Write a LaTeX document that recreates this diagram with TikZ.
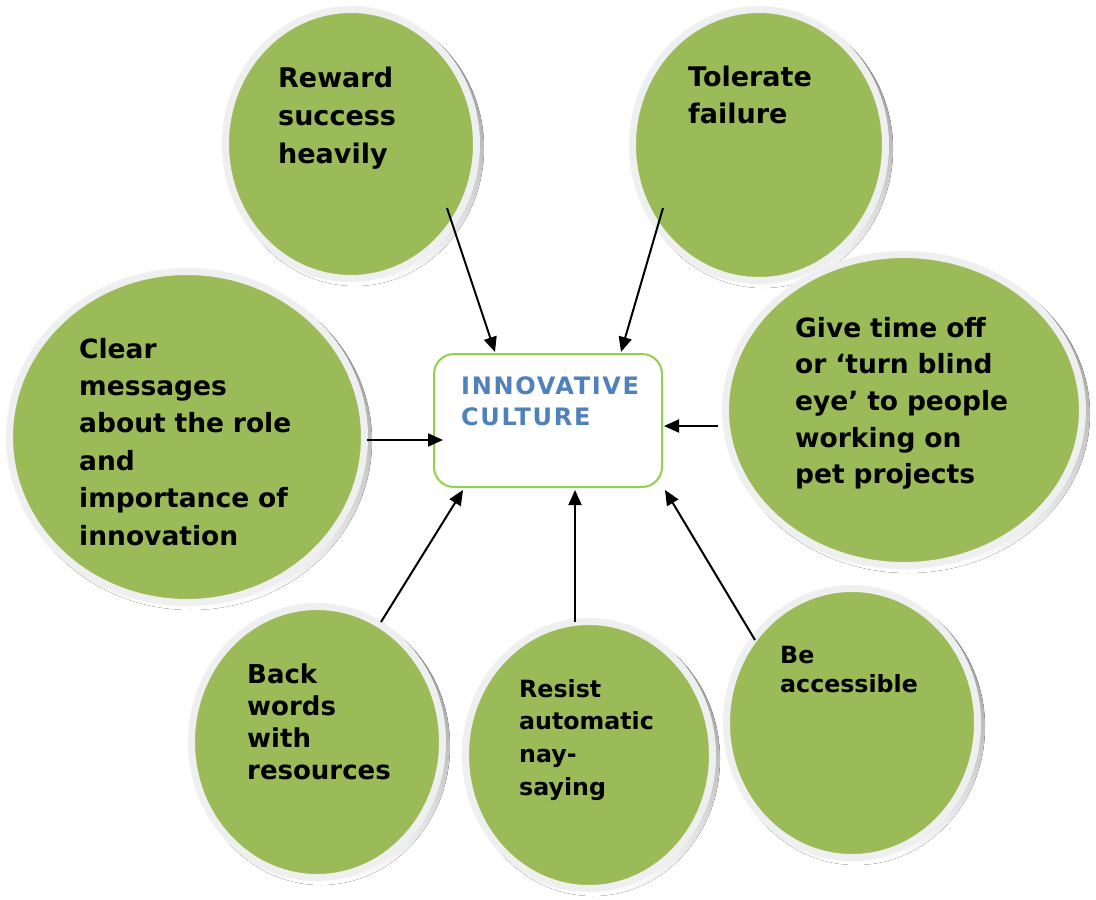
\documentclass[tikz,border=0pt]{standalone}
\usepackage{fontspec}
\setmainfont{DejaVu Sans}
\usetikzlibrary{shapes.geometric,arrows.meta}
\definecolor{leaf}{HTML}{9BBB59}
\definecolor{rim}{HTML}{EFEFEF}
\definecolor{shade}{HTML}{A3AB8D}
\definecolor{boxline}{HTML}{92D050}
\definecolor{titleblue}{HTML}{4F81BD}
\newcommand\mybubble[5]{%
  \fill[shade] (#2+4,#3+4) ellipse [x radius=#4pt, y radius=#5pt];
  \node[bubble, minimum width={2*#4pt-7pt}, minimum height={2*#5pt-7pt}] (#1) at (#2,#3) {};
}
\begin{document}
\begin{tikzpicture}[x=1pt,y=-1pt,
  bubble/.style={ellipse, fill=leaf, draw=rim, line width=7pt, inner sep=0pt},
  label/.style={anchor=base west, inner sep=0pt, text width=300pt, align=left, text=black},
  arr/.style={line width=2pt, -{Triangle[length=15pt,width=13pt]}}]
\useasboundingbox (0,0) rectangle (1096,900);
\fill[white] (0,0) rectangle (1096,900);

\mybubble{reward}{351}{144}{129}{138}
\mybubble{tolerate}{759}{145}{130}{139}
\mybubble{give}{904}{410}{182}{159}
\mybubble{clear}{187}{437}{181}{169}
\mybubble{back}{317}{742}{129}{139}
\mybubble{resist}{589}{755}{127}{137}
\mybubble{access}{852}{723}{129}{138}

\node[draw=boxline, line width=2pt, rounded corners=20pt, fill=white,
      minimum width=228pt, minimum height=133pt, inner sep=0pt] (box) at (548,420.5) {};

\node[label, font={\fontsize{27}{38}\selectfont\bfseries}] (treward) at (278,87) {Reward\\success\\heavily};
\node[label, font={\fontsize{27}{37}\selectfont\bfseries}] (ttolerate) at (688,86) {Tolerate\\failure};
\node[label, font={\fontsize{26.5}{36.7}\selectfont\bfseries}] (tgive) at (795,337) {Give time off\\or ‘turn blind\\eye’ to people\\working on\\pet projects};
\node[label, font={\fontsize{26.5}{37.4}\selectfont\bfseries}] (tclear) at (79,358) {Clear\\messages\\about the role\\and\\importance of\\innovation};
\node[label, font={\fontsize{26}{32.3}\selectfont\bfseries}] (tback) at (247,683) {Back\\words\\with\\resources};
\node[label, font={\fontsize{23.7}{32.7}\selectfont\bfseries}] (tresist) at (519,697) {Resist\\automatic\\nay-\\saying};
\node[label, font={\fontsize{23.7}{29}\selectfont\bfseries}] (taccess) at (780,663) {Be\\accessible};
\node[label, text=titleblue, font={\fontsize{24}{31}\selectfont\bfseries\addfontfeature{LetterSpace=7}}] (title) at (461,394) {INNOVATIVE\\CULTURE};

\coordinate (s1) at (447,208); \coordinate (e1) at (495,352);
\coordinate (s2) at (663,208); \coordinate (e2) at (621,352);
\coordinate (s3) at (718,426); \coordinate (e3) at (664,426);
\coordinate (s4) at (367,440); \coordinate (e4) at (443,440);
\coordinate (s5) at (381,622); \coordinate (e5) at (463,490);
\coordinate (s6) at (575,622); \coordinate (e6) at (575,490);
\coordinate (s7) at (755,640); \coordinate (e7) at (665,490);
\draw[arr] (s1) -- (e1);
\draw[arr] (s2) -- (e2);
\draw[arr] (s3) -- (e3);
\draw[arr] (s4) -- (e4);
\draw[arr] (s5) -- (e5);
\draw[arr] (s6) -- (e6);
\draw[arr] (s7) -- (e7);
\end{tikzpicture}
\end{document}
